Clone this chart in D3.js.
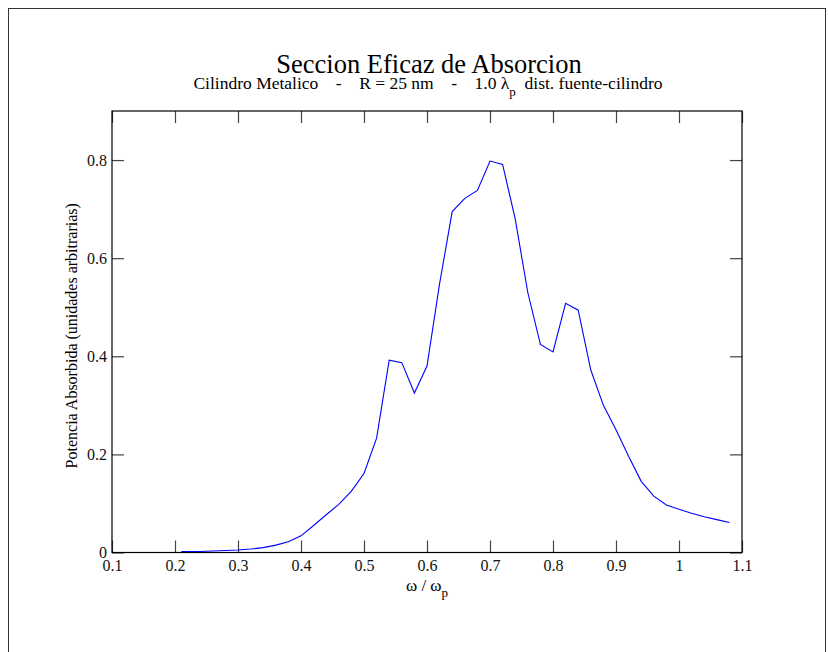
<!DOCTYPE html>
<html>
<head>
<meta charset="utf-8">
<script src="https://cdn.jsdelivr.net/npm/d3@7"></script>
<style>
  body { margin: 0; background: #fff; }
  svg { display: block; font-family: "Liberation Serif", "Times New Roman", serif; }
  text { white-space: pre; }
</style>
</head>
<body>
<svg id="chart" width="828" height="652"></svg>
<script>
// frequency (omega / omega_p)
const omega = [0.21, 0.22, 0.24, 0.26, 0.28, 0.30, 0.32, 0.34, 0.36, 0.38, 0.40,
  0.42, 0.44, 0.46, 0.48, 0.50, 0.52, 0.54, 0.56, 0.58, 0.60, 0.62, 0.64, 0.66,
  0.68, 0.70, 0.72, 0.74, 0.76, 0.78, 0.80, 0.82, 0.84, 0.86, 0.88, 0.90, 0.92,
  0.94, 0.96, 0.98, 1.00, 1.02, 1.04, 1.06, 1.08];

// absorbed power (arbitrary units)
const potencia = [0.002, 0.002, 0.002, 0.003, 0.004, 0.005, 0.007, 0.010, 0.015, 0.022, 0.034,
  0.055, 0.077, 0.098, 0.125, 0.161, 0.233, 0.392, 0.387, 0.325, 0.380, 0.548, 0.695, 0.722,
  0.738, 0.798, 0.791, 0.680, 0.530, 0.424, 0.409, 0.508, 0.494, 0.372, 0.300, 0.250, 0.196,
  0.145, 0.115, 0.097, 0.088, 0.080, 0.073, 0.067, 0.061];

const xTicks = [0.1, 0.2, 0.3, 0.4, 0.5, 0.6, 0.7, 0.8, 0.9, 1.0, 1.1];
const yTicks = [0, 0.2, 0.4, 0.6, 0.8];

const data = omega.map((w, i) => ({ w, p: potencia[i] }));

const serif = '"Liberation Serif", "Times New Roman", serif';
const svg = d3.select("#chart");

// page frame
svg.append("rect")
  .attr("x", 8.5).attr("y", 8.5)
  .attr("width", 817).attr("height", 660)
  .attr("fill", "none")
  .attr("stroke", "#333")
  .attr("stroke-width", 1);

const margin = { top: 111, right: 86, bottom: 100, left: 112 };
const width = 828 - margin.left - margin.right;
const height = 652 - margin.top - margin.bottom + 0.5;

const g = svg.append("g")
  .attr("transform", `translate(${margin.left},${margin.top})`);

const x = d3.scaleLinear().domain([0.1, 1.1]).range([0, width]);
const y = d3.scaleLinear().domain([0, 0.9]).range([height, 0]);

const fmt = d => String(+d.toFixed(1));

// axes, ticks pointing inward
g.append("g")
  .attr("transform", `translate(0,${height})`)
  .call(d3.axisBottom(x).tickValues(xTicks).tickFormat(fmt).tickSizeInner(-12).tickSizeOuter(0).tickPadding(7));
g.append("g")
  .call(d3.axisTop(x).tickValues(xTicks).tickFormat("").tickSizeInner(-12).tickSizeOuter(0));
g.append("g")
  .call(d3.axisLeft(y).tickValues(yTicks).tickFormat(fmt).tickSizeInner(-12).tickSizeOuter(0).tickPadding(5));
g.append("g")
  .attr("transform", `translate(${width},0)`)
  .call(d3.axisRight(y).tickValues(yTicks).tickFormat("").tickSizeInner(-12).tickSizeOuter(0));

g.selectAll(".domain").remove();
g.selectAll(".tick line").attr("stroke", "#444").attr("stroke-width", 1.2);
g.selectAll(".tick text")
  .attr("fill", "#111")
  .style("font-family", serif)
  .style("font-size", "16px");

// plot box
g.append("rect")
  .attr("width", width).attr("height", height)
  .attr("fill", "none")
  .attr("stroke", "#000")
  .attr("stroke-width", 1.2);

// curve
g.append("path")
  .datum(data)
  .attr("fill", "none")
  .attr("stroke", "#0000ff")
  .attr("stroke-width", 1.1)
  .attr("d", d3.line().x(d => x(d.w)).y(d => y(d.p)));

// titles
const cx = margin.left + width / 2;
svg.append("text")
  .attr("x", cx + 2).attr("y", 73)
  .attr("text-anchor", "middle")
  .style("font-size", "26.5px")
  .attr("fill", "#000")
  .text("Seccion Eficaz de Absorcion");

const sub = svg.append("text")
  .attr("x", cx + 1).attr("y", 89)
  .attr("text-anchor", "middle")
  .style("font-size", "17.5px")
  .attr("fill", "#000");
sub.append("tspan").text("Cilindro Metalico    -    R = 25 nm    -    1.0 λ");
sub.append("tspan").attr("dy", 7).style("font-size", "13px").text("p");
sub.append("tspan").attr("dy", -7).text("  dist. fuente-cilindro");

// axis labels
const xlab = svg.append("text")
  .attr("x", cx).attr("y", 591)
  .attr("text-anchor", "middle")
  .style("font-size", "17px")
  .attr("fill", "#000");
xlab.append("tspan").text("ω / ω");
xlab.append("tspan").attr("dy", 6).style("font-size", "13px").text("p");

svg.append("text")
  .attr("transform", `translate(77,${margin.top + height / 2 + 4}) rotate(-90)`)
  .attr("text-anchor", "middle")
  .style("font-size", "16px")
  .attr("fill", "#000")
  .text("Potencia Absorbida (unidades arbitrarias)");
</script>
</body>
</html>
